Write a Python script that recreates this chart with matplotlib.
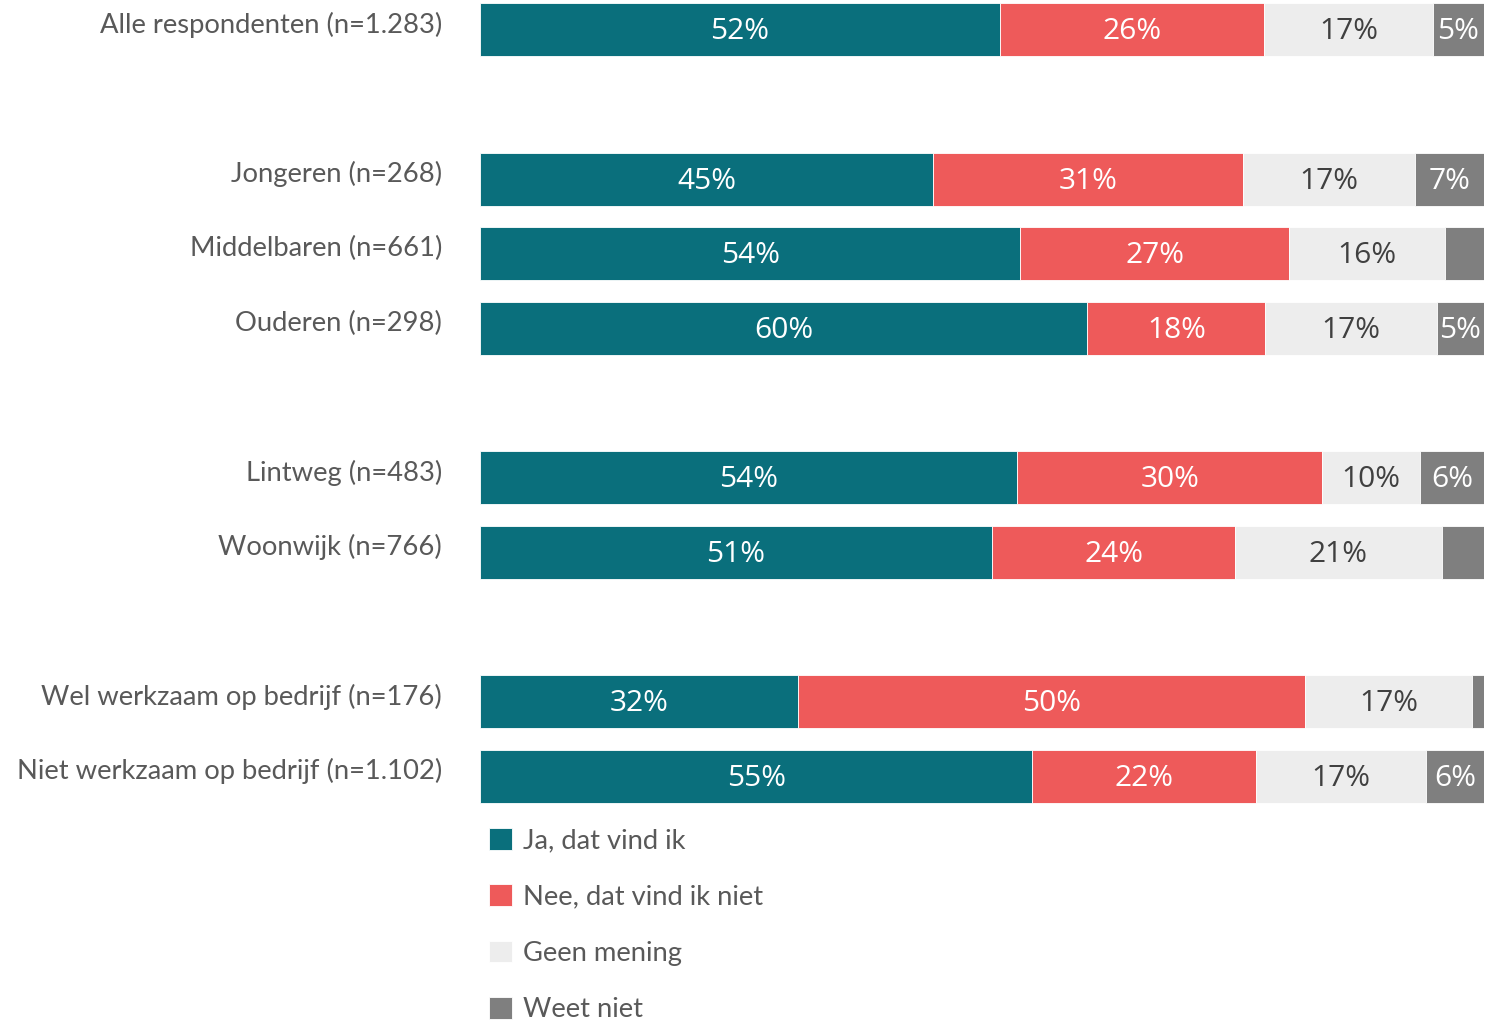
import matplotlib.pyplot as plt
from matplotlib.transforms import offset_copy
import numpy as np

plt.rcParams['font.family'] = ['Lato', 'DejaVu Sans']

categories = ["Alle respondenten (n=1.283)", "Jongeren (n=268)", "Middelbaren (n=661)",
              "Ouderen (n=298)", "Lintweg (n=483)", "Woonwijk (n=766)",
              "Wel werkzaam op bedrijf (n=176)", "Niet werkzaam op bedrijf (n=1.102)"]
ja = [51.8, 45.1, 53.8, 60.5, 53.5, 51.0, 31.7, 55.0]
nee = [26.3, 30.9, 26.8, 17.7, 30.4, 24.2, 50.5, 22.3]
geen = [16.8, 17.1, 15.5, 17.1, 9.7, 20.6, 16.6, 16.9]
weet = [5.1, 6.9, 3.9, 4.7, 6.4, 4.2, 1.2, 5.8]
series_names = ["Ja, dat vind ik", "Nee, dat vind ik niet", "Geen mening", "Weet niet"]

colors = ["#0A6F7C", "#EE5A5A", "#EDEDED", "#7F7F7F"]
text_colors = ["white", "white", "#404040", "white"]

# groups separated by an empty double row
ypos = np.array([0, 2, 3, 4, 6, 7, 9, 10])

fig = plt.figure(figsize=(14.91, 10.27), dpi=100)
ax = fig.add_axes([480 / 1491, 1 - 806 / 1027, 1004 / 1491, 806 / 1027])

pct_tr = offset_copy(ax.transData, fig=fig, x=0, y=-2, units="dots")
left = np.zeros(len(categories))
bars = []
for vals, c, tc, name in zip([ja, nee, geen, weet], colors, text_colors, series_names):
    vals = np.array(vals)
    b = ax.barh(ypos, vals, left=left, height=0.71, color=c, edgecolor="white",
                linewidth=0.6, label=name)
    bars.append(b)
    for y, l, v in zip(ypos, left, vals):
        if v >= 4.5:
            ax.text(l + v / 2, y, f"{v:.0f}%", ha="center", va="center",
                    transform=pct_tr, color=tc, fontsize=21.5,
                    family=["Open Sans", "DejaVu Sans"])
    left += vals

ax.set_xlim(0, 100)
ax.set_ylim(10.4, -0.4)
ax.set_yticks([])
ax.set_xticks([])
for s in ax.spines.values():
    s.set_visible(False)

lab_tr = offset_copy(ax.transData, fig=fig, x=-38, y=5, units="dots")
for y, cat in zip(ypos, categories):
    ax.text(0, y, cat, transform=lab_tr, ha="right", va="center",
            fontsize=19.7, color="#595959")

fig.legend(handles=bars, labels=series_names, loc="upper left",
           bbox_to_anchor=(489 / 1491, 1 - 828 / 1027), frameon=False,
           fontsize=19.7, labelcolor="#595959", handlelength=0.85, handleheight=0.85,
           handletextpad=0.38, labelspacing=1.13, borderaxespad=0, borderpad=0)

fig.savefig("out.png", dpi=100)
